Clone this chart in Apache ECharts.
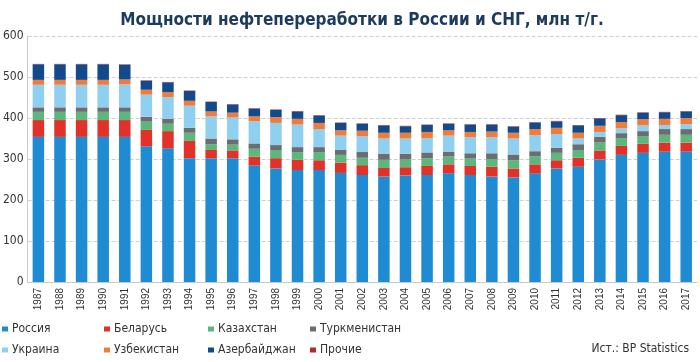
<!DOCTYPE html>
<html>
<head>
<meta charset="utf-8">
<script src="https://cdn.jsdelivr.net/npm/echarts@6/dist/echarts.min.js"></script>
<style>html,body{margin:0;padding:0;background:#fff;}#c{width:700px;height:362px;}</style>
</head>
<body>
<div id="c"></div>
<script>
const years = ['1987','1988','1989','1990','1991','1992','1993','1994','1995','1996','1997','1998','1999','2000','2001','2002','2003','2004','2005','2006','2007','2008','2009','2010','2011','2012','2013','2014','2015','2016','2017'];
const russia       = [354,354,354,354,354,331,326,302,302,302,284,277,273,273,266,261,257,260,261,265,261,257,255,265,277,281,299,310,315,318,318];
const belarus      = [41,41,41,41,41,40,42,42,20,19,22,25,25,24,25,24,21,20,22,22,22,24,22,22,20,22,22,22,22,22,22];
const kazakhstan   = [20,20,20,20,20,20,18,20,14,14,19,20,19,20,19,18,20,19,19,19,18,19,20,20,18,19,19,19,19,19,19];
const turkmenistan = [11,11,11,11,11,12,12,12,14,13,13,12,12,12,12,14,15,14,14,12,13,14,14,12,12,14,14,12,12,14,14];
const ukraine      = [55,55,55,55,56,54,53,54,54,53,54,54,55,44,35,39,37,37,35,39,39,39,39,39,34,14,12,12,14,10,12];
const uzbekistan   = [12,12,12,12,12,12,12,12,12,12,12,14,14,15,13,13,14,14,15,13,13,14,14,15,15,14,15,15,15,15,15];
const azerbaijan   = [38,38,38,38,36,22,24,24,23,20,19,18,18,18,18,17,18,16,17,16,18,17,15,16,16,18,18,17,16,16,16];
const others       = [1,1,1,1,1,1,1,1,1,1,1,1,1,1,1,1,1,1,1,1,1,1,1,1,1,1,1,1,1,1,1];
const yTicks = [0,100,200,300,400,500,600];

const names = ['Россия','Беларусь','Казахстан','Туркменистан','Украина','Узбекистан','Азербайджан','Прочие'];
const datas = [russia,belarus,kazakhstan,turkmenistan,ukraine,uzbekistan,azerbaijan,others];
const colors = ['#1e8bd3','#e03229','#5db67c','#6b6d70','#8fd0f0','#f07c3c','#134a8b','#b5282b'];
const narrow = "'Liberation Sans Narrow','DejaVu Sans Condensed',sans-serif";

const chart = echarts.init(document.getElementById('c'), null, {renderer:'canvas'});
const colLeft = [2,104,208,310];
const rowTop = [323,344];
const legends = names.map((n,i)=>({
  orient:'horizontal', itemWidth:6, itemHeight:5, icon:'rect',
  left: colLeft[i%4], top: rowTop[Math.floor(i/4)], data:[n], padding:0,
  textStyle:{fontFamily:narrow, fontSize:12, color:'#333', padding:[0,0,0,-1]}
}));
chart.setOption({
  animation:false,
  backgroundColor:'#fff',
  title:{text:'Мощности нефтепереработки в России и СНГ, млн т/г.', left:357, textAlign:'center', top:7,
    textStyle:{fontFamily:narrow, fontWeight:'bold', fontSize:17, color:'#1d3b5f'}},
  graphic:[{type:'text', right:11, top:343, style:{text:'Ист.: BP Statistics', font:"12px 'Liberation Sans Narrow','DejaVu Sans Condensed',sans-serif", fill:'#333'}}],
  legend: legends,
  grid:{left:26, right:3, top:36, bottom:80},
  xAxis:{type:'category', data:years,
    axisLine:{lineStyle:{color:'#c8c8d0'}}, axisTick:{show:false},
    axisLabel:{rotate:90, fontFamily:"'Liberation Sans',sans-serif", fontSize:10, color:'#333', margin:6}},
  yAxis:{type:'value', min:0, max:600, interval:100,
    axisLine:{show:true, lineStyle:{color:'#c8c8d0'}}, axisTick:{show:false},
    axisLabel:{fontFamily:narrow, fontSize:12, color:'#333', margin:4, formatter:v=>yTicks.includes(v)?String(v):''},
    splitLine:{lineStyle:{color:'#cfcfd4', type:'dashed'}}},
  series: names.map((n,i)=>({name:n, type:'bar', stack:'s', data:datas[i], barWidth:11.5, itemStyle:{color:colors[i]}}))
});
</script>
</body>
</html>
